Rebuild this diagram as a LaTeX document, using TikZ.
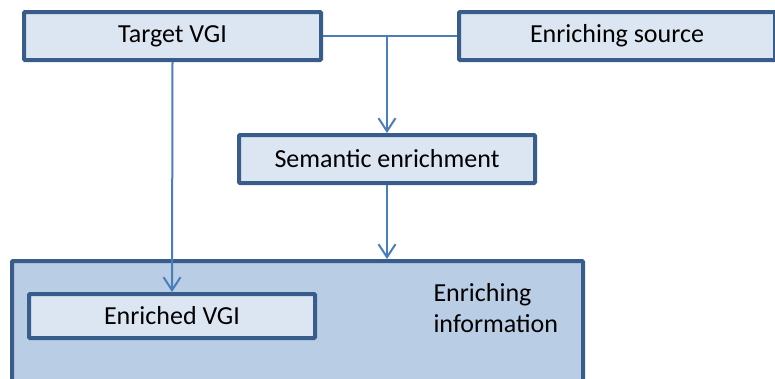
\documentclass[tikz,border=0pt]{standalone}
\usepackage{fontspec}
\setmainfont{Carlito}
\usetikzlibrary{arrows.meta,positioning}
\definecolor{boxfill}{RGB}{220,230,242}
\definecolor{outerfill}{RGB}{185,205,229}
\definecolor{boxedge}{RGB}{56,93,138}
\definecolor{linkblue}{RGB}{74,126,187}

\begin{document}
\begin{tikzpicture}[
  x=1pt, y=-1pt,
  font=\fontsize{26}{31}\selectfont,
  stepbox/.style={draw=boxedge, fill=boxfill, line width=4pt, rounded corners=1pt,
    minimum height=48pt, inner sep=0pt},
  outerbox/.style={draw=boxedge, fill=outerfill, line width=4pt, rounded corners=1pt,
    inner sep=0pt},
  link/.style={linkblue, line width=2pt},
  flow/.style={link, -{Straight Barb[length=13pt, width=17pt, line width=2pt]}},
]
\useasboundingbox (0,0) rectangle (775,378);
\clip (0,0) rectangle (775,378);

% -------------------------------------------------------------------------
% Inputs and the enrichment step.
% -------------------------------------------------------------------------
\node[stepbox, minimum width=297pt] (target) at (172.5,36) {Target VGI};
\node[stepbox, minimum width=316pt] (source) at (617,36) {Enriching source};
\node[stepbox, minimum width=296pt] (semantic) at (387,159) {Semantic enrichment};

% -------------------------------------------------------------------------
% Result: enriching information holding the enriched VGI.
% -------------------------------------------------------------------------
\node[outerbox, minimum width=571pt, minimum height=180pt, anchor=north west]
  (info) at (10,259) {};
\node[stepbox, minimum width=286pt, minimum height=44pt] (enriched) at (172,316) {Enriched VGI};
\node[align=left, anchor=west] (infotext) at (430,308) {Enriching\\information};

% Connectors: both inputs join above the enrichment step.
\coordinate (join) at (semantic.north |- target.east);
\draw[link] (target.east) -- (source.west);
\draw[flow] (join) -- (semantic.north);
\draw[flow] (semantic.south) -- (semantic.south |- info.north);
\draw[flow] (target.south) -- (enriched.north);

\end{tikzpicture}
\end{document}
